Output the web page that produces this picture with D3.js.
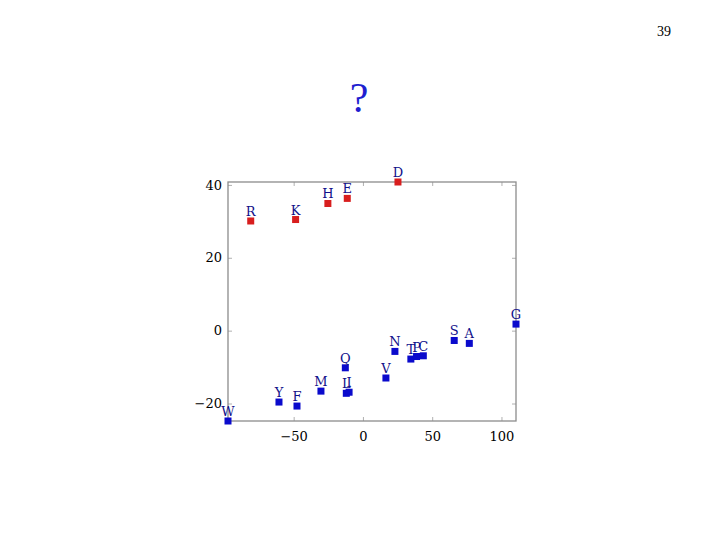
<!DOCTYPE html>
<html>
<head>
<meta charset="utf-8">
<script src="https://cdn.jsdelivr.net/npm/d3@7"></script>
<style>
  body { margin: 0; background: #fff; }
  svg { display: block; }
</style>
</head>
<body>
<div id="chart"></div>
<script>
// amino acids, positioned by two components
const labels = ["R", "K", "H", "E", "D", "W", "Y", "F", "M", "L", "I", "Q", "V", "N", "T", "P", "C", "S", "A", "G"];
const xVals  = [-81, -48.6, -25.3, -11.3, 25.3, -97.4, -60.6, -47.6, -30.3, -12, -10, -12.7, 16.6, 23.1, 34.6, 38.7, 43.6, 65.9, 76.8, 110.5];
const yVals  = [30.1, 30.5, 34.9, 36.3, 40.8, -24.8, -19.6, -20.7, -16.6, -17.2, -16.9, -10.2, -13, -5.7, -7.8, -7.1, -6.9, -2.7, -3.5, 1.8];
const charged = ["R", "K", "H", "E", "D"];
const xTicks = [-50, 0, 50, 100];
const yTicks = [-20, 0, 20, 40];

const W = 720, H = 540;
const box = { left: 228, right: 516, top: 182, bottom: 421 };

const svg = d3.select("#chart").append("svg")
  .attr("width", W).attr("height", H);

// page number and title
svg.append("text")
  .attr("x", 664).attr("y", 36)
  .attr("text-anchor", "middle")
  .style("font-family", "Liberation Serif, serif")
  .style("font-size", "14px")
  .text("39");

svg.append("text")
  .attr("x", 359).attr("y", 112)
  .attr("text-anchor", "middle")
  .style("font-family", "Liberation Serif, serif")
  .style("font-size", "42px")
  .style("fill", "#1f1fd0")
  .text("?");

const x = d3.scaleLinear()
  .domain([d3.min(xVals), d3.max(xVals)])
  .range([box.left, box.right]);
const y = d3.scaleLinear()
  .domain([d3.min(yVals), d3.max(yVals)])
  .range([box.bottom, box.top]);

const tickLen = 4;
const axisColor = "#8c8c8c";
const fmt = d => d < 0 ? "\u2212" + Math.abs(d) : String(d);

const g = svg.append("g");

// ticks point inward on all four sides
const xAxisB = g.append("g")
  .attr("transform", `translate(0,${box.bottom})`)
  .call(d3.axisBottom(x).tickValues(xTicks).tickSizeInner(-tickLen).tickSizeOuter(0).tickPadding(8).tickFormat(fmt));
const xAxisT = g.append("g")
  .attr("transform", `translate(0,${box.top})`)
  .call(d3.axisTop(x).tickValues(xTicks).tickSizeInner(-tickLen).tickSizeOuter(0).tickFormat(""));
const yAxisL = g.append("g")
  .attr("transform", `translate(${box.left},0)`)
  .call(d3.axisLeft(y).tickValues(yTicks).tickSizeInner(-tickLen).tickSizeOuter(0).tickPadding(6).tickFormat(fmt));
const yAxisR = g.append("g")
  .attr("transform", `translate(${box.right},0)`)
  .call(d3.axisRight(y).tickValues(yTicks).tickSizeInner(-tickLen).tickSizeOuter(0).tickFormat(""));

[xAxisB, xAxisT, yAxisL, yAxisR].forEach(a => {
  a.select(".domain").remove();
  a.selectAll(".tick line").attr("stroke", "#b0b0b0");
  a.selectAll("text")
    .style("font-family", "DejaVu Serif, serif")
    .style("font-size", "13px")
    .style("fill", "#000");
});
xAxisB.selectAll("text").attr("dy", "0.9em");

// frame
g.append("rect")
  .attr("x", box.left).attr("y", box.top)
  .attr("width", box.right - box.left).attr("height", box.bottom - box.top)
  .attr("fill", "none").attr("stroke", axisColor).attr("stroke-width", 1.3);

const data = labels.map((l, i) => ({ label: l, x: xVals[i], y: yVals[i] }));
const m = 7;

g.selectAll("rect.pt").data(data).enter().append("rect")
  .attr("class", "pt")
  .attr("x", d => x(d.x) - m / 2)
  .attr("y", d => y(d.y) - m / 2)
  .attr("width", m).attr("height", m)
  .attr("fill", d => charged.includes(d.label) ? "#d81e1e" : "#0a0acc");

g.selectAll("text.lbl").data(data).enter().append("text")
  .attr("class", "lbl")
  .attr("x", d => x(d.x))
  .attr("y", d => y(d.y) - 5)
  .attr("text-anchor", "middle")
  .style("font-family", "DejaVu Serif, serif")
  .style("font-size", "13px")
  .style("fill", "#10108a")
  .text(d => d.label);
</script>
</body>
</html>
